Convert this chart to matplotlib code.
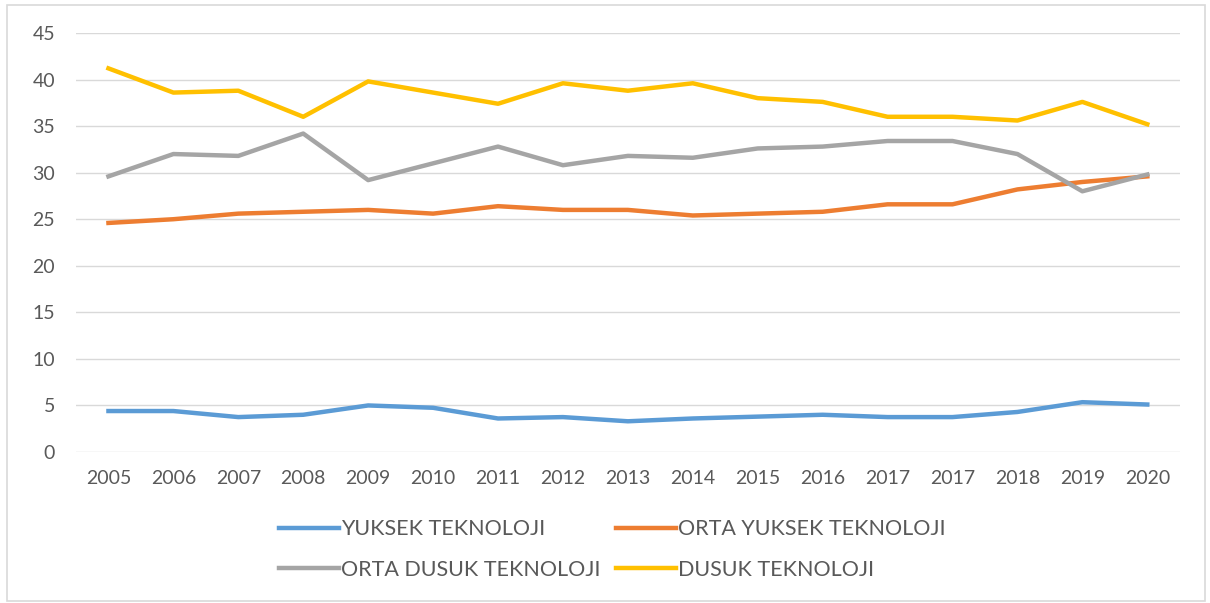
import matplotlib.pyplot as plt
import numpy as np
from matplotlib.patches import Rectangle

plt.rcParams['font.family'] = ['Lato', 'DejaVu Sans']

years = ['2005', '2006', '2007', '2008', '2009', '2010', '2011', '2012', '2013',
         '2014', '2015', '2016', '2017', '2017', '2018', '2019', '2020']

yuksek = [4.4, 4.4, 3.75, 4.0, 5.0, 4.75, 3.6, 3.75, 3.3, 3.6, 3.8, 4.0, 3.75, 3.75,
          4.3, 5.35, 5.1]
orta_yuksek = [24.6, 25.0, 25.6, 25.8, 26.0, 25.6, 26.4, 26.0, 26.0, 25.4, 25.6, 25.8,
               26.6, 26.6, 28.2, 29.0, 29.6]
orta_dusuk = [29.6, 32.0, 31.8, 34.2, 29.2, 31.0, 32.8, 30.8, 31.8, 31.6, 32.6, 32.8,
              33.4, 33.4, 32.0, 28.0, 29.8]
dusuk = [41.2, 38.6, 38.8, 36.0, 39.8, 38.6, 37.4, 39.6, 38.8, 39.6, 38.0, 37.6,
         36.0, 36.0, 35.6, 37.6, 35.2]

fig = plt.figure(figsize=(12.10, 6.03), dpi=100)
ax = fig.add_axes([0.0628, 0.2504, 0.9122, 0.6949])

# light frame round the chart
fig.patches.append(Rectangle((0.006, 0.004), 0.99, 0.988, transform=fig.transFigure,
                             fill=False, edgecolor='#d9d9d9', linewidth=1.2))

x = np.arange(len(years))
lw = 3.2
l1, = ax.plot(x, yuksek, color='#5B9BD5', lw=lw, label='YUKSEK TEKNOLOJI')
l2, = ax.plot(x, orta_yuksek, color='#ED7D31', lw=lw, label='ORTA YUKSEK TEKNOLOJI')
l3, = ax.plot(x, orta_dusuk, color='#A5A5A5', lw=lw, label='ORTA DUSUK TEKNOLOJI')
l4, = ax.plot(x, dusuk, color='#FFC000', lw=lw, label='DUSUK TEKNOLOJI')

ax.set_xlim(-0.5, len(years) - 0.5)
ax.set_ylim(0, 45)
ax.set_yticks(range(0, 46, 5))
ax.set_xticks(x)
ax.set_xticklabels(years)
ax.tick_params(length=0, labelsize=14, labelcolor='#595959')
ax.tick_params(axis='y', pad=15)
ax.tick_params(axis='x', pad=13)
ax.grid(axis='y', color='#d9d9d9', lw=1)
ax.set_axisbelow(True)
for s in ax.spines.values():
    s.set_visible(False)

leg = fig.legend(handles=[l1, l3, l2, l4], loc='center', bbox_to_anchor=(0.506, 0.089),
                 ncol=2, frameon=False, fontsize=15.5, handlelength=2.8,
                 handletextpad=0.1, columnspacing=0.7, labelspacing=0.95)
for t in leg.get_texts():
    t.set_color('#595959')

fig.savefig('out.png', dpi=100)
